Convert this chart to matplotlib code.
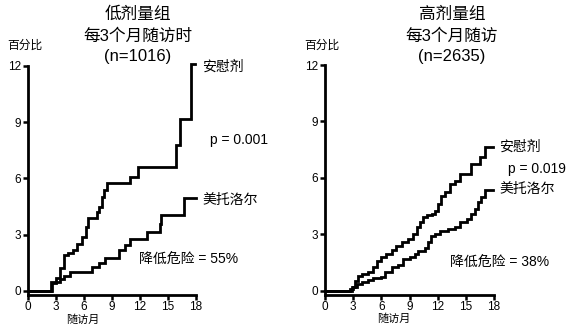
import matplotlib
matplotlib.use("Agg")
import matplotlib.pyplot as plt

FAM = ['Liberation Sans', 'Noto Sans CJK SC', 'DejaVu Sans']
plt.rcParams['font.family'] = FAM

# ---- data ----
xticks = [0, 3, 6, 9, 12, 15, 18]
yticks = [0, 3, 6, 9, 12]

low_placebo_t = [0, 2.5, 3.05, 3.4, 3.9, 4.3, 4.85, 5.3, 5.75, 6.2, 6.45, 7.35, 7.6, 7.9, 8.1, 8.45, 10.9, 11.8, 15.9, 16.3, 17.5, 17.9]
low_placebo_y = [0, 0.45, 0.7, 1.2, 1.9, 2.0, 2.2, 2.5, 2.9, 3.4, 3.9, 4.2, 4.5, 5.0, 5.4, 5.75, 6.1, 6.6, 7.8, 9.15, 12.1, 12.1]
low_meto_t = [0, 2.6, 3.0, 3.4, 3.9, 4.5, 6.9, 7.6, 8.2, 9.8, 10.4, 10.9, 12.8, 14.1, 14.3, 16.7, 18.0]
low_meto_y = [0, 0.4, 0.5, 0.65, 0.8, 1.0, 1.3, 1.5, 1.75, 2.2, 2.45, 2.75, 3.15, 3.55, 4.05, 4.95, 4.95]

high_placebo_t = [0, 2.7, 2.85, 3.2, 3.5, 3.9, 4.6, 5.15, 5.5, 6.0, 6.55, 7.1, 7.6, 8.15, 8.85, 9.4, 9.75, 10.1, 10.45, 10.85, 11.35, 11.7, 12.05, 12.4, 12.8, 13.3, 13.85, 14.4, 15.6, 16.5, 17.05, 17.9]
high_placebo_y = [0, 0.1, 0.2, 0.5, 0.8, 0.9, 1.0, 1.25, 1.6, 1.8, 1.95, 2.15, 2.4, 2.6, 2.75, 3.0, 3.4, 3.65, 3.95, 4.05, 4.1, 4.25, 4.6, 5.05, 5.25, 5.7, 5.85, 6.2, 6.75, 7.1, 7.65, 7.65]
high_meto_t = [0, 2.85, 3.0, 3.4, 3.9, 4.6, 5.15, 6.0, 6.4, 7.1, 7.8, 8.3, 9.0, 9.6, 9.95, 10.6, 10.95, 11.3, 11.7, 12.25, 13.1, 13.85, 14.4, 15.1, 15.6, 15.95, 16.3, 16.65, 17.05, 17.9]
high_meto_y = [0, 0.1, 0.2, 0.35, 0.45, 0.6, 0.7, 0.75, 1.0, 1.25, 1.4, 1.7, 1.8, 1.95, 2.1, 2.3, 2.6, 2.9, 3.0, 3.2, 3.3, 3.4, 3.65, 3.8, 4.1, 4.35, 4.7, 5.0, 5.35, 5.35]

W, H = 570, 328
fig = plt.figure(figsize=(W / 100, H / 100), dpi=100)
fig.patch.set_facecolor('white')


def px(x, y):
    return x / W, 1 - y / H


def make_ax(left_px, right_px, top_px, bottom_px):
    ax = fig.add_axes([left_px / W, 1 - bottom_px / H, (right_px - left_px) / W, (bottom_px - top_px) / H])
    ax.set_xlim(0, 18)
    ax.set_ylim(-0.22, 12)
    ax.set_xticks(xticks)
    ax.set_yticks(yticks)
    ax.set_xticklabels([str(v) for v in xticks])
    ax.set_yticklabels([str(v) for v in yticks])
    for s in ['top', 'right']:
        ax.spines[s].set_visible(False)
    for s in ['left', 'bottom']:
        ax.spines[s].set_linewidth(2.0)
    ax.tick_params(axis='both', direction='out', length=3.5, width=1.8, labelsize=8.5, colors='black')
    ax.tick_params(axis='x', pad=0.5)
    ax.tick_params(axis='y', pad=1.5)
    ax.set_facecolor('none')
    return ax


ax1 = make_ax(28, 196, 66, 295)
ax2 = make_ax(325, 494, 65, 295)

for ax, (pt, py), (mt, my) in [
    (ax1, (low_placebo_t, low_placebo_y), (low_meto_t, low_meto_y)),
    (ax2, (high_placebo_t, high_placebo_y), (high_meto_t, high_meto_y)),
]:
    ax.step(pt, py, where='post', color='black', lw=2.0, clip_on=False, solid_joinstyle='miter')
    ax.step(mt, my, where='post', color='black', lw=2.0, clip_on=False, solid_joinstyle='miter')


def ftext(x, y, s, size, ha='left', va='center', **kw):
    fig.text(*px(x, y), s, fontsize=size, ha=ha, va=va, family=FAM, color='black', **kw)


# left panel texts
ftext(138, 14, '低剂量组', 12, ha='center')
ftext(138, 36, '每3个月随访时', 12, ha='center')
ftext(138, 57, '(n=1016)', 12, ha='center')
ftext(7, 46, '百分比', 8.5)
ftext(202, 67, '安慰剂', 10)
ftext(210, 140, 'p = 0.001', 10)
ftext(202, 200, '美托洛尔', 10)
ftext(139, 260, '降低危险 = 55%', 10)
ftext(83, 320, '随访月', 8, ha='center')

# right panel texts
ftext(452, 14, '高剂量组', 12, ha='center')
ftext(452, 36, '每3个月随访', 12, ha='center')
ftext(452, 57, '(n=2635)', 12, ha='center')
ftext(304, 46, '百分比', 8.5)
ftext(499, 147, '安慰剂', 10)
ftext(508, 169, 'p = 0.019', 10)
ftext(499, 189, '美托洛尔', 10)
ftext(450, 263, '降低危险 = 38%', 10)
ftext(394, 319, '随访月', 8, ha='center')

fig.savefig('out.png', dpi=100, facecolor='white')
